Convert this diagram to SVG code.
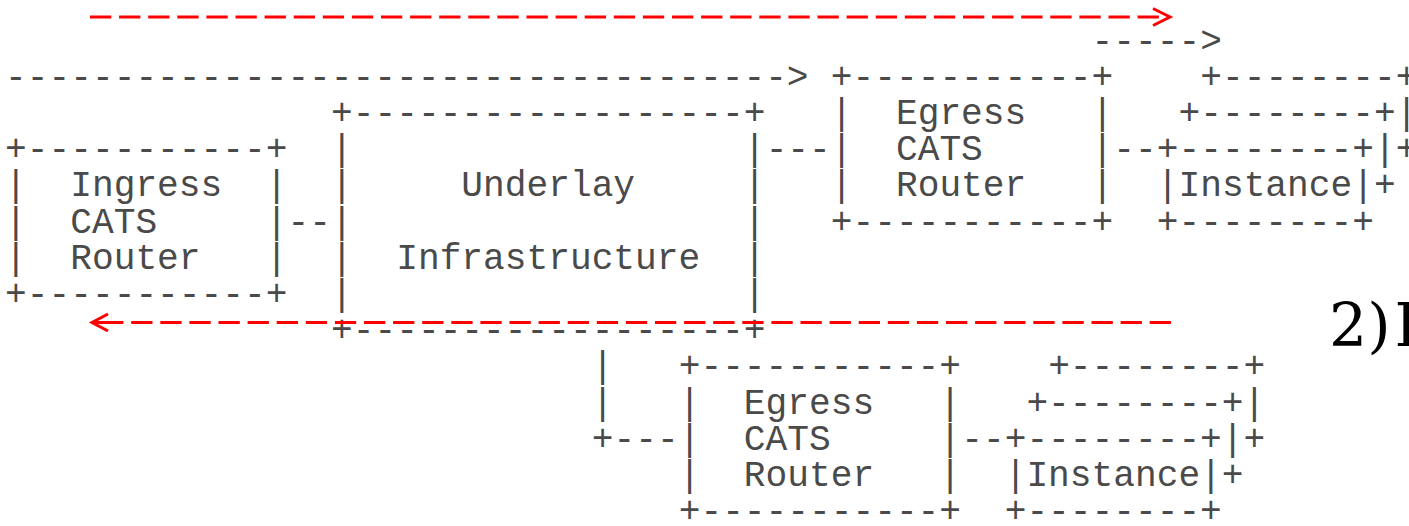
<svg xmlns="http://www.w3.org/2000/svg" width="1409" height="526" viewBox="0 0 1409 526">
  <style>
    text { font-family: "Liberation Mono", "Courier New", monospace; font-size: 36.2px; fill: #4a4a4a; white-space: pre; }
    .label { font-family: "DejaVu Serif", "Liberation Serif", serif; font-size: 60px; fill: #000; }
    .flow { stroke: #ff0000; stroke-width: 3; fill: none; }
    .dash { stroke-dasharray: 21.3 7.8; }
  </style>
  <rect width="1409" height="526" fill="#ffffff"/>

  <!-- character grid: column c at x = 5.1 + 21.73*c, row r at baseline y = 51.5 + 36.2*r -->

  <g id="ingress-router">
    <text x="5.1" y="160.1" xml:space="preserve">+-----------+</text>
    <text x="5.1" y="196.3" xml:space="preserve">|  Ingress  |</text>
    <text x="5.1" y="232.5" xml:space="preserve">|  CATS     |</text>
    <text x="5.1" y="268.7" xml:space="preserve">|  Router   |</text>
    <text x="5.1" y="304.9" xml:space="preserve">+-----------+</text>
  </g>

  <g id="underlay-infrastructure">
    <text x="331.05" y="123.9" xml:space="preserve">+------------------+</text>
    <text x="331.05" y="160.1" xml:space="preserve">|                  |</text>
    <text x="331.05" y="196.3" xml:space="preserve">|     Underlay     |</text>
    <text x="331.05" y="232.5" xml:space="preserve">|                  |</text>
    <text x="331.05" y="268.7" xml:space="preserve">|  Infrastructure  |</text>
    <text x="331.05" y="304.9" xml:space="preserve">|                  |</text>
    <text x="331.05" y="341.1" xml:space="preserve">+------------------+</text>
  </g>

  <g id="egress-router-1">
    <text x="830.84" y="87.7" xml:space="preserve">+-----------+</text>
    <text x="830.84" y="123.9" xml:space="preserve">|  Egress   |</text>
    <text x="830.84" y="160.1" xml:space="preserve">|  CATS     |</text>
    <text x="830.84" y="196.3" xml:space="preserve">|  Router   |</text>
    <text x="830.84" y="232.5" xml:space="preserve">+-----------+</text>
  </g>

  <g id="instances-1">
    <text x="1200.25" y="87.7" xml:space="preserve">+--------+</text>
    <text x="1178.52" y="123.9" xml:space="preserve">+--------+|</text>
    <text x="1156.79" y="160.1" xml:space="preserve">+--------+|+</text>
    <text x="1156.79" y="196.3" xml:space="preserve">|Instance|+</text>
    <text x="1156.79" y="232.5" xml:space="preserve">+--------+</text>
  </g>

  <g id="egress-router-2">
    <text x="678.73" y="377.3" xml:space="preserve">+-----------+</text>
    <text x="678.73" y="413.5" xml:space="preserve">|  Egress   |</text>
    <text x="678.73" y="449.7" xml:space="preserve">|  CATS     |</text>
    <text x="678.73" y="485.9" xml:space="preserve">|  Router   |</text>
    <text x="678.73" y="522.1" xml:space="preserve">+-----------+</text>
  </g>

  <g id="instances-2">
    <text x="1048.14" y="377.3" xml:space="preserve">+--------+</text>
    <text x="1026.41" y="413.5" xml:space="preserve">+--------+|</text>
    <text x="1004.68" y="449.7" xml:space="preserve">+--------+|+</text>
    <text x="1004.68" y="485.9" xml:space="preserve">|Instance|+</text>
    <text x="1004.68" y="522.1" xml:space="preserve">+--------+</text>
  </g>

  <g id="connectors">
    <!-- ascii links -->
    <text x="1091.6" y="51.5" xml:space="preserve">-----&gt;</text>
    <text x="5.1" y="87.7" xml:space="preserve">------------------------------------&gt;</text>
    <text x="765.65" y="160.1" xml:space="preserve">---</text>
    <text x="1113.33" y="160.1" xml:space="preserve">--</text>
    <text x="287.59" y="232.5" xml:space="preserve">--</text>
    <text x="591.81" y="377.3" xml:space="preserve">|</text>
    <text x="591.81" y="413.5" xml:space="preserve">|</text>
    <text x="591.81" y="449.7" xml:space="preserve">+---</text>
    <text x="961.22" y="449.7" xml:space="preserve">--</text>

    <!-- red request / response paths -->
    <path class="flow dash" d="M90 17 H1168"/>
    <path class="flow" d="M1153 8.5 L1170 17 L1153 25.5"/>
    <path class="flow dash" d="M1171 322.5 H94"/>
    <path class="flow" d="M108 314 L92 322.5 L108 331 M92 322.5 H123"/>
  </g>

  <text class="label" x="1329" y="346">2)<tspan dx="4">I</tspan></text>
</svg>
